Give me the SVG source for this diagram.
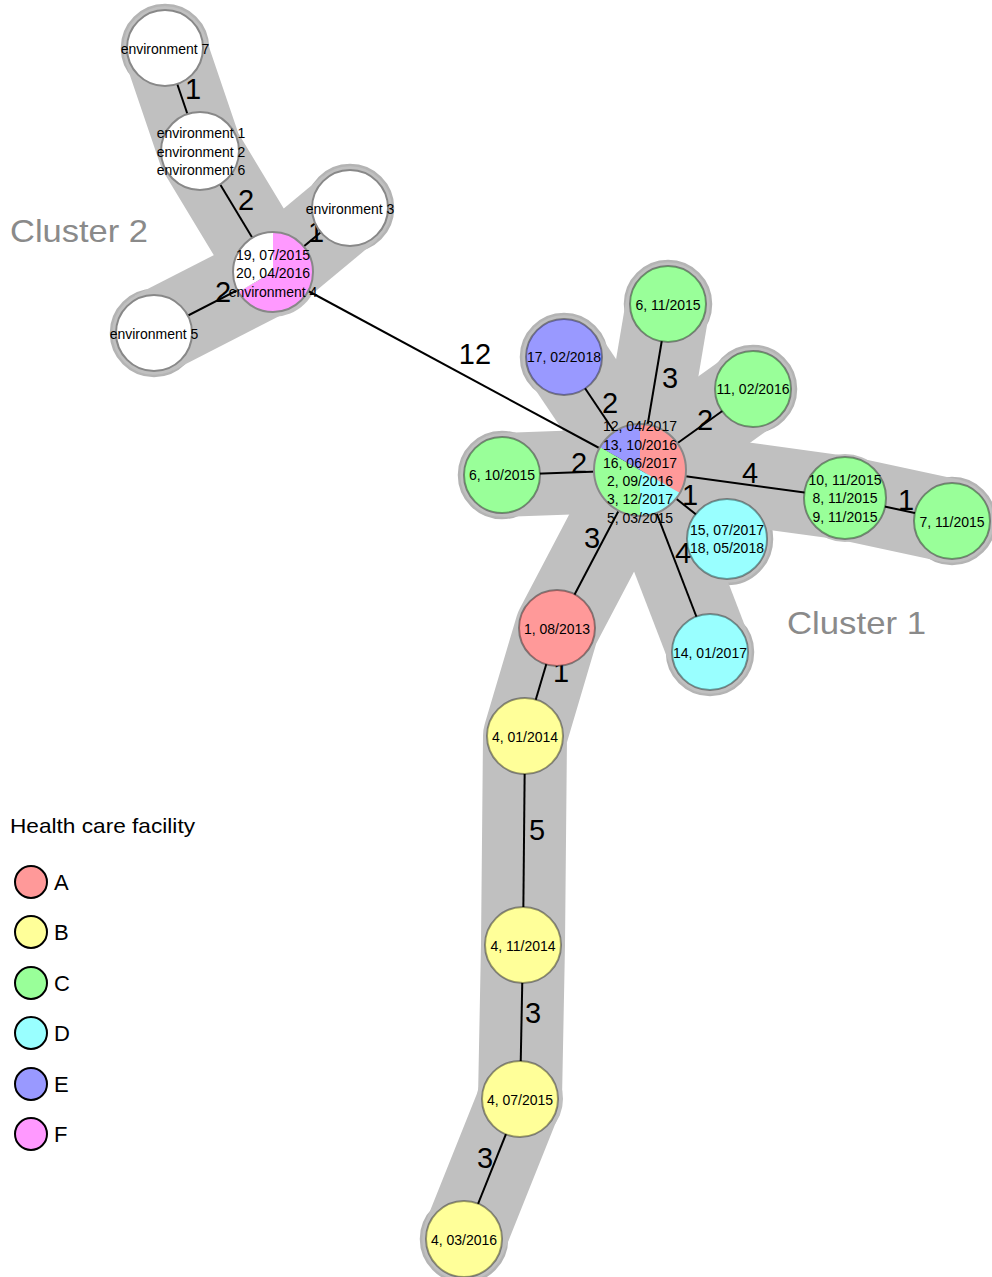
<svg xmlns="http://www.w3.org/2000/svg" width="992" height="1277" viewBox="0 0 992 1277">
  <style>
    text { font-family: "Liberation Sans", Arial, sans-serif; fill: #000; }
    .nl { font-size: 14px; text-anchor: middle; }
    .el { font-size: 29px; text-anchor: middle; }
    .cl { font-size: 32px; fill: #8a8a8a; }
    .lg { font-size: 22px; }
    .lt { font-size: 21px; }
    .edge { stroke: #000; stroke-width: 2; fill: none; }
    .band { stroke: #c0c0c0; stroke-width: 84; fill: none; stroke-linecap: butt; stroke-linejoin: round; }
    .cap { fill: #c0c0c0; stroke: #b4b4b4; stroke-width: 2.5; }
    .hub { fill: #c0c0c0; }
    .node { stroke: #000; stroke-opacity: 0.38; stroke-width: 2; }
    .env { fill: #fff; stroke: #888; stroke-width: 2; }
    .A { fill: #ff9999; } .B { fill: #ffff99; } .C { fill: #99ff99; }
    .D { fill: #99ffff; } .E { fill: #9999ff; } .F { fill: #ff99ff; }
    .leg { stroke: #000; stroke-width: 2; }
  </style>

  <!-- cluster hulls -->
  <g id="hulls">
    <!-- rounded ends around leaf nodes -->
    <circle class="cap" cx="165" cy="48" r="43"/>
    <circle class="cap" cx="350" cy="208" r="43"/>
    <circle class="cap" cx="154" cy="333" r="43"/>
    <circle class="cap" cx="564" cy="357" r="43"/>
    <circle class="cap" cx="668" cy="304" r="43"/>
    <circle class="cap" cx="753" cy="389" r="43"/>
    <circle class="cap" cx="502" cy="475" r="43"/>
    <circle class="cap" cx="952" cy="521" r="43"/>
    <circle class="cap" cx="727" cy="539" r="45"/>
    <circle class="cap" cx="710" cy="652" r="43"/>
    <circle class="cap" cx="464" cy="1239" r="43"/>
    <!-- cluster 2 bands -->
    <path class="band" d="M165,48 L200,151 L273,272"/>
    <path class="band" d="M273,272 L350,208"/>
    <path class="band" d="M273,272 L154,333"/>
    <!-- cluster 1 bands -->
    <path class="band" d="M640,470 L564,357"/>
    <path class="band" d="M640,470 L668,304"/>
    <path class="band" d="M640,470 L753,389"/>
    <path class="band" d="M640,470 L502,475"/>
    <path class="band" d="M640,470 L845,498 L952,521"/>
    <path class="band" d="M640,470 L727,539"/>
    <path class="band" d="M640,470 L710,652"/>
    <path class="band" d="M640,470 L557,628 L525,736 L523,945 L520,1099 L464,1239"/>
    <circle class="hub" cx="273" cy="272" r="45"/>
    <circle class="hub" cx="640" cy="470" r="50"/>
    <circle class="hub" cx="845" cy="498" r="44"/>
    <circle class="hub" cx="520" cy="1099" r="43"/>
  </g>

  <text class="cl" x="10" y="242" textLength="138" lengthAdjust="spacingAndGlyphs">Cluster 2</text>
  <text class="cl" x="787" y="634" textLength="139" lengthAdjust="spacingAndGlyphs">Cluster 1</text>

  <!-- connectors and their distances -->
  <g id="connectors">
    <line class="edge" x1="165" y1="48" x2="200" y2="151"/>
    <line class="edge" x1="200" y1="151" x2="273" y2="272"/>
    <line class="edge" x1="273" y1="272" x2="350" y2="208"/>
    <line class="edge" x1="273" y1="272" x2="154" y2="333"/>
    <line class="edge" x1="273" y1="272" x2="640" y2="470"/>
    <line class="edge" x1="640" y1="470" x2="564" y2="357"/>
    <line class="edge" x1="640" y1="470" x2="668" y2="304"/>
    <line class="edge" x1="640" y1="470" x2="753" y2="389"/>
    <line class="edge" x1="640" y1="470" x2="502" y2="475"/>
    <line class="edge" x1="640" y1="470" x2="845" y2="498"/>
    <line class="edge" x1="845" y1="498" x2="952" y2="521"/>
    <line class="edge" x1="640" y1="470" x2="727" y2="539"/>
    <line class="edge" x1="640" y1="470" x2="710" y2="652"/>
    <line class="edge" x1="640" y1="470" x2="557" y2="628"/>
    <line class="edge" x1="557" y1="628" x2="525" y2="736"/>
    <line class="edge" x1="525" y1="736" x2="523" y2="945"/>
    <line class="edge" x1="523" y1="945" x2="520" y2="1099"/>
    <line class="edge" x1="520" y1="1099" x2="464" y2="1239"/>

    <text class="el" x="193" y="99">1</text>
    <text class="el" x="246" y="210">2</text>
    <text class="el" x="316" y="242">1</text>
    <text class="el" x="223" y="302">2</text>
    <text class="el" x="475" y="364">12</text>
    <text class="el" x="610" y="413">2</text>
    <text class="el" x="670" y="388">3</text>
    <text class="el" x="705" y="430">2</text>
    <text class="el" x="579" y="473">2</text>
    <text class="el" x="750" y="483">4</text>
    <text class="el" x="906" y="510">1</text>
    <text class="el" x="690" y="505">1</text>
    <text class="el" x="683" y="563">4</text>
    <text class="el" x="592" y="548">3</text>
    <text class="el" x="561" y="682">1</text>
    <text class="el" x="537" y="840">5</text>
    <text class="el" x="533" y="1023">3</text>
    <text class="el" x="485" y="1168">3</text>
  </g>

  <!-- cluster 2 nodes -->
  <g id="n-env7">
    <circle class="env" cx="165" cy="48" r="38"/>
    <text class="nl" x="165" y="54">environment 7</text>
  </g>
  <g id="n-env126">
    <circle class="env" cx="200" cy="151" r="39"/>
    <text class="nl" x="201" y="138">environment 1</text>
    <text class="nl" x="201" y="157">environment 2</text>
    <text class="nl" x="201" y="175">environment 6</text>
  </g>
  <g id="n-env3">
    <circle class="env" cx="350" cy="208" r="38"/>
    <text class="nl" x="350" y="214">environment 3</text>
  </g>
  <g id="n-env5">
    <circle class="env" cx="154" cy="333" r="38"/>
    <text class="nl" x="154" y="339">environment 5</text>
  </g>
  <g id="n-c2hub">
    <path class="F" d="M273,272 L273,232 A40,40 0 1 1 238.36,292 Z"/>
    <path fill="#fff" d="M273,272 L238.36,292 A40,40 0 0 1 273,232 Z"/>
    <circle cx="273" cy="272" r="40" fill="none" stroke="#888" stroke-width="2"/>
    <text class="nl" x="273" y="260">19, 07/2015</text>
    <text class="nl" x="273" y="278">20, 04/2016</text>
    <text class="nl" x="273" y="297">environment 4</text>
  </g>

  <!-- cluster 1 nodes -->
  <g id="n-c1hub">
    <path class="A" d="M640,470 L640,424 A46,46 0 0 1 679.84,493 Z"/>
    <path class="D" d="M640,470 L679.84,493 A46,46 0 0 1 640,516 Z"/>
    <path class="C" d="M640,470 L640,516 A46,46 0 0 1 600.16,447 Z"/>
    <path class="E" d="M640,470 L600.16,447 A46,46 0 0 1 640,424 Z"/>
    <circle cx="640" cy="470" r="46" fill="none" stroke="#888" stroke-width="2"/>
    <text class="nl" x="640" y="431">12, 04/2017</text>
    <text class="nl" x="640" y="450">13, 10/2016</text>
    <text class="nl" x="640" y="468">16, 06/2017</text>
    <text class="nl" x="640" y="486">2, 09/2016</text>
    <text class="nl" x="640" y="504">3, 12/2017</text>
    <text class="nl" x="640" y="523">5, 03/2015</text>
  </g>
  <g id="n-17">
    <circle class="node E" cx="564" cy="357" r="38"/>
    <text class="nl" x="564" y="362">17, 02/2018</text>
  </g>
  <g id="n-6a">
    <circle class="node C" cx="668" cy="304" r="38"/>
    <text class="nl" x="668" y="310">6, 11/2015</text>
  </g>
  <g id="n-11">
    <circle class="node C" cx="753" cy="389" r="38"/>
    <text class="nl" x="753" y="394">11, 02/2016</text>
  </g>
  <g id="n-6b">
    <circle class="node C" cx="502" cy="475" r="38"/>
    <text class="nl" x="502" y="480">6, 10/2015</text>
  </g>
  <g id="n-10-8-9">
    <circle class="node C" cx="845" cy="498" r="41"/>
    <text class="nl" x="845" y="485">10, 11/2015</text>
    <text class="nl" x="845" y="503">8, 11/2015</text>
    <text class="nl" x="845" y="522">9, 11/2015</text>
  </g>
  <g id="n-7">
    <circle class="node C" cx="952" cy="521" r="38"/>
    <text class="nl" x="952" y="527">7, 11/2015</text>
  </g>
  <g id="n-15-18">
    <circle class="node D" cx="727" cy="539" r="40"/>
    <text class="nl" x="727" y="535">15, 07/2017</text>
    <text class="nl" x="727" y="553">18, 05/2018</text>
  </g>
  <g id="n-14">
    <circle class="node D" cx="710" cy="652" r="38"/>
    <text class="nl" x="710" y="658">14, 01/2017</text>
  </g>
  <g id="n-1">
    <circle class="node A" cx="557" cy="628" r="38"/>
    <text class="nl" x="557" y="634">1, 08/2013</text>
  </g>
  <g id="n-4a">
    <circle class="node B" cx="525" cy="736" r="38"/>
    <text class="nl" x="525" y="742">4, 01/2014</text>
  </g>
  <g id="n-4b">
    <circle class="node B" cx="523" cy="945" r="38"/>
    <text class="nl" x="523" y="951">4, 11/2014</text>
  </g>
  <g id="n-4c">
    <circle class="node B" cx="520" cy="1099" r="38"/>
    <text class="nl" x="520" y="1105">4, 07/2015</text>
  </g>
  <g id="n-4d">
    <circle class="node B" cx="464" cy="1239" r="38"/>
    <text class="nl" x="464" y="1245">4, 03/2016</text>
  </g>

  <!-- legend -->
  <g id="legend">
    <text class="lt" x="10" y="833" textLength="185" lengthAdjust="spacingAndGlyphs">Health care facility</text>
    <circle class="leg A" cx="31" cy="882" r="16"/>
    <text class="lg" x="54" y="890">A</text>
    <circle class="leg B" cx="31" cy="932" r="16"/>
    <text class="lg" x="54" y="940">B</text>
    <circle class="leg C" cx="31" cy="983" r="16"/>
    <text class="lg" x="54" y="991">C</text>
    <circle class="leg D" cx="31" cy="1033" r="16"/>
    <text class="lg" x="54" y="1041">D</text>
    <circle class="leg E" cx="31" cy="1084" r="16"/>
    <text class="lg" x="54" y="1092">E</text>
    <circle class="leg F" cx="31" cy="1134" r="16"/>
    <text class="lg" x="54" y="1142">F</text>
  </g>
</svg>
